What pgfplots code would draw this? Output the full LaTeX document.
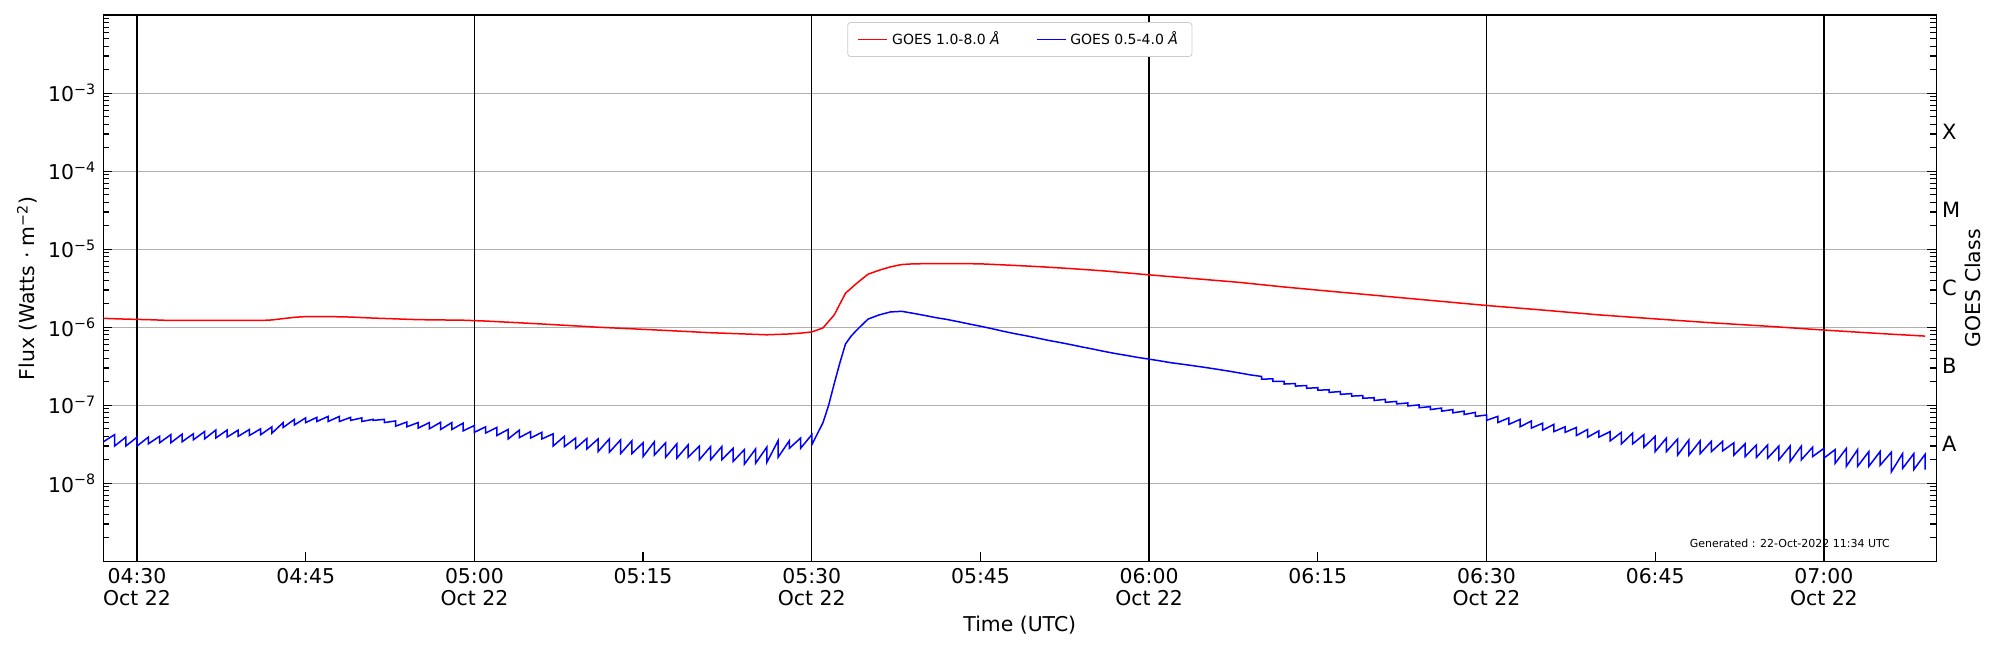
\documentclass[border=0pt]{standalone}
\usepackage{pgfplots}
\pgfplotsset{compat=1.18}
\usepackage{pgfplotstable}
\usepackage{fontspec}
\setmainfont{DejaVu Sans}
\definecolor{gridgray}{HTML}{B0B0B0}
\definecolor{legedge}{HTML}{CCCCCC}

\pgfplotstableread{
x y
27 1.30e-6
29 1.27e-6
31 1.25e-6
33 1.22e-6
35 1.22e-6
37 1.22e-6
39 1.22e-6
41 1.22e-6
42 1.24e-6
43 1.29e-6
44 1.34e-6
45 1.37e-6
47 1.37e-6
49 1.35e-6
51 1.31e-6
53 1.28e-6
55 1.25e-6
57 1.24e-6
59 1.23e-6
61 1.20e-6
63 1.16e-6
65 1.12e-6
67 1.08e-6
69 1.04e-6
71 1.00e-6
73 9.7e-7
75 9.4e-7
77 9.1e-7
79 8.8e-7
81 8.5e-7
83 8.3e-7
85 8.1e-7
86 8.0e-7
87 8.1e-7
88 8.2e-7
89 8.4e-7
90 8.7e-7
91 9.8e-7
92 1.44e-6
93 2.73e-6
94 3.66e-6
95 4.78e-6
96 5.38e-6
97 5.94e-6
98 6.36e-6
99 6.49e-6
101 6.55e-6
103 6.55e-6
105 6.49e-6
107 6.3e-6
110 6.0e-6
113 5.65e-6
116 5.27e-6
120 4.69e-6
124 4.2e-6
128 3.76e-6
132 3.28e-6
136 2.9e-6
140 2.57e-6
145 2.21e-6
150 1.9e-6
155 1.66e-6
160 1.44e-6
165 1.28e-6
170 1.14e-6
175 1.03e-6
180 9.2e-7
185 8.3e-7
189 7.7e-7
}\redtab

\pgfplotstableread{
x y
27 3.4e-8
28 4.2e-8
28 3.0e-8
29 3.9e-8
29 3.0e-8
30 3.9e-8
30 3.0e-8
31 3.9e-8
31 3.2e-8
32 4.0e-8
32 3.3e-8
33 4.2e-8
33 3.3e-8
34 4.25e-8
34 3.4e-8
35 4.3e-8
35 3.6e-8
36 4.6e-8
36 3.7e-8
37 4.8e-8
37 3.8e-8
38 4.8e-8
38 3.9e-8
39 4.8e-8
39 4.0e-8
40 4.9e-8
40 4.1e-8
41 5.0e-8
41 4.2e-8
42 5.3e-8
42 4.4e-8
43 6.0e-8
43 5.2e-8
44 6.6e-8
44 5.6e-8
45 6.9e-8
45 6.0e-8
46 7.0e-8
46 6.2e-8
47 7.2e-8
47 6.2e-8
48 7.2e-8
48 6.2e-8
49 7.0e-8
49 6.4e-8
50 6.9e-8
50 6.2e-8
51 6.6e-8
51 6.4e-8
52 6.6e-8
52 6.0e-8
53 6.3e-8
53 5.4e-8
54 6.1e-8
54 5.3e-8
55 6.0e-8
55 5.1e-8
56 6.0e-8
56 5.0e-8
57 6.05e-8
57 4.9e-8
58 6.0e-8
58 4.9e-8
59 5.9e-8
59 4.7e-8
60 5.5e-8
60 4.5e-8
61 5.3e-8
61 4.4e-8
62 5.2e-8
62 4.1e-8
63 4.9e-8
63 3.7e-8
64 4.8e-8
64 3.85e-8
65 4.6e-8
65 3.8e-8
66 4.5e-8
66 3.7e-8
67 4.3e-8
67 3.0e-8
68 4.0e-8
68 2.95e-8
69 3.8e-8
69 2.8e-8
70 3.75e-8
70 2.75e-8
71 3.7e-8
71 2.55e-8
72 3.7e-8
72 2.5e-8
73 3.6e-8
73 2.4e-8
74 3.5e-8
74 2.4e-8
75 3.3e-8
75 2.2e-8
76 3.4e-8
76 2.3e-8
77 3.3e-8
77 2.15e-8
78 3.2e-8
78 2.1e-8
79 3.1e-8
79 2.15e-8
80 3.0e-8
80 2.0e-8
81 2.95e-8
81 2.0e-8
82 2.95e-8
82 2.0e-8
83 2.8e-8
83 1.9e-8
84 2.7e-8
84 1.75e-8
85 2.75e-8
85 1.8e-8
86 2.9e-8
86 1.85e-8
87 3.5e-8
87 2.15e-8
88 3.5e-8
88 2.8e-8
89 3.8e-8
89 2.8e-8
90 4.2e-8
90 3.1e-8
91 6.0e-8
91.5 1.0e-7
92 1.9e-7
92.5 3.5e-7
93 6.1e-7
93.5 7.7e-7
94 9.2e-7
95 1.27e-6
96 1.44e-6
97 1.57e-6
98 1.60e-6
99 1.51e-6
100 1.42e-6
101 1.33e-6
102 1.26e-6
103 1.18e-6
104 1.10e-6
105 1.03e-6
106 9.6e-7
107 8.9e-7
108 8.3e-7
109 7.8e-7
110 7.3e-7
111 6.8e-7
112 6.4e-7
113 6.0e-7
114 5.6e-7
115 5.25e-7
116 4.9e-7
117 4.6e-7
118 4.35e-7
119 4.1e-7
120 3.9e-7
121 3.7e-7
122 3.5e-7
123 3.35e-7
124 3.2e-7
125 3.05e-7
126 2.9e-7
127 2.75e-7
128 2.6e-7
129 2.45e-7
130 2.34e-7
130 2.16e-7
131 2.18e-7
131 2.02e-7
132 2.03e-7
132 1.87e-7
133 1.90e-7
133 1.76e-7
134 1.79e-7
134 1.65e-7
135 1.68e-7
135 1.56e-7
136 1.58e-7
136 1.46e-7
137 1.50e-7
137 1.38e-7
138 1.41e-7
138 1.31e-7
139 1.33e-7
139 1.23e-7
140 1.25e-7
140 1.15e-7
141 1.19e-7
141 1.09e-7
142 1.12e-7
142 1.04e-7
143 1.07e-7
143 9.8e-8
144 1.01e-7
144 9.3e-8
145 9.6e-8
145 8.8e-8
146 9.2e-8
146 8.4e-8
147 8.8e-8
147 8.0e-8
148 8.4e-8
148 7.6e-8
149 8.1e-8
149 7.2e-8
150 7.5e-8
150 6.4e-8
151 7.2e-8
151 6.0e-8
152 6.9e-8
152 5.7e-8
153 6.6e-8
153 5.3e-8
154 6.3e-8
154 5.1e-8
155 5.9e-8
155 4.8e-8
156 5.7e-8
156 4.6e-8
157 5.3e-8
157 4.5e-8
158 5.2e-8
158 4.1e-8
159 4.9e-8
159 3.9e-8
160 4.7e-8
160 3.9e-8
161 4.6e-8
161 3.5e-8
162 4.5e-8
162 3.2e-8
163 4.4e-8
163 3.2e-8
164 4.2e-8
164 2.9e-8
165 4.0e-8
165 2.55e-8
166 3.8e-8
166 2.55e-8
167 3.7e-8
167 2.3e-8
168 3.6e-8
168 2.3e-8
169 3.5e-8
169 2.4e-8
170 3.45e-8
170 2.55e-8
171 3.45e-8
171 2.6e-8
172 3.3e-8
172 2.3e-8
173 3.2e-8
173 2.2e-8
174 3.1e-8
174 2.15e-8
175 3.1e-8
175 2.1e-8
176 3.0e-8
176 2.0e-8
177 3.0e-8
177 1.9e-8
178 3.0e-8
178 2.0e-8
179 2.9e-8
179 2.2e-8
180 2.8e-8
180 2.1e-8
181 2.7e-8
181 1.8e-8
182 2.8e-8
182 1.65e-8
183 2.7e-8
183 1.65e-8
184 2.55e-8
184 1.65e-8
185 2.55e-8
185 1.7e-8
186 2.5e-8
186 1.4e-8
187 2.4e-8
187 1.55e-8
188 2.4e-8
188 1.5e-8
189 2.35e-8
189 1.5e-8
}\bluetab

\begin{document}
\begin{tikzpicture}
\path[use as bounding box] (0pt,0pt) rectangle (1000pt,325pt);
\begin{axis}[
  at={(51.65pt,44.35pt)}, anchor=south west,
  scale only axis, width=916.5pt, height=273.1pt,
  clip=false,
  xmin=27, xmax=190,
  ymode=log, ymin=1e-9, ymax=1e-2,
  xtick={30,45,...,180},
  xticklabels={{04:30\\Oct 22},{04:45},{05:00\\Oct 22},{05:15},{05:30\\Oct 22},{05:45},{06:00\\Oct 22},{06:15},{06:30\\Oct 22},{06:45},{07:00\\Oct 22}},
  ytick={1e-8,1e-7,1e-6,1e-5,1e-4,1e-3},
  yticklabels={10\textsuperscript{−8},10\textsuperscript{−7},10\textsuperscript{−6},10\textsuperscript{−5},10\textsuperscript{−4},10\textsuperscript{−3}},
  minor ytick={2e-9,3e-9,4e-9,5e-9,6e-9,7e-9,8e-9,9e-9,
    2e-8,3e-8,4e-8,5e-8,6e-8,7e-8,8e-8,9e-8,
    2e-7,3e-7,4e-7,5e-7,6e-7,7e-7,8e-7,9e-7,
    2e-6,3e-6,4e-6,5e-6,6e-6,7e-6,8e-6,9e-6,
    2e-5,3e-5,4e-5,5e-5,6e-5,7e-5,8e-5,9e-5,
    2e-4,3e-4,4e-4,5e-4,6e-4,7e-4,8e-4,9e-4,
    2e-3,3e-3,4e-3,5e-3,6e-3,7e-3,8e-3,9e-3},
  xtick pos=bottom, ytick pos=both,
  tick align=inside,
  major tick length=4.5pt, minor tick length=3pt,
  every tick/.style={black, line width=0.6pt},
  axis line style={line width=0.8pt},
  ymajorgrids,
  major grid style={gridgray, line width=0.6pt},
  ticklabel style={font=\fontsize{10.2}{10.75}\selectfont},
  xticklabel style={align=center},
  xlabel={Time (UTC)},
  xlabel style={at={(axis description cs:0.5,-0.1285)}, anchor=base, inner sep=0pt, font=\fontsize{10.2}{12}\selectfont},
  ylabel={Flux (Watts · m\textsuperscript{−2})},
  ylabel style={at={(axis description cs:-0.03726,0.5)}, anchor=base, inner sep=0pt, font=\fontsize{10.2}{12}\selectfont},
  legend columns=2,
  legend cell align=left,
  legend image code/.code={\draw[#1] (0pt,0pt) -- (14.5pt,0pt);},
  legend style={at={(0.5,1)}, anchor=north, yshift=-3.5pt, draw=legedge, rounded corners=1.5pt, fill=white,
    font=\fontsize{7}{8}\selectfont, inner xsep=5pt, inner ysep=2.5pt,
    /tikz/every even column/.append style={column sep=16pt}},
]
\pgfplotsinvokeforeach{30,60,90,120,150,180}{
  \draw[black, line width=0.65pt] (axis cs:#1,1e-9) -- (axis cs:#1,1e-2);
}
\addplot[red, line width=0.75pt] table[x=x,y=y] {\redtab};
\addlegendentry{GOES 1.0-8.0 \textit{Å}}
\addplot[blue, line width=0.75pt] table[x=x,y=y] {\bluetab};
\addlegendentry{GOES 0.5-4.0 \textit{Å}}

\node[anchor=west, inner sep=0pt, xshift=2.7pt, font=\fontsize{10.5}{12}\selectfont] at (rel axis cs:1,0.7857) {X};
\node[anchor=west, inner sep=0pt, xshift=2.7pt, font=\fontsize{10.5}{12}\selectfont] at (rel axis cs:1,0.6429) {M};
\node[anchor=west, inner sep=0pt, xshift=2.7pt, font=\fontsize{10.5}{12}\selectfont] at (rel axis cs:1,0.5) {C};
\node[anchor=west, inner sep=0pt, xshift=2.7pt, font=\fontsize{10.5}{12}\selectfont] at (rel axis cs:1,0.3571) {B};
\node[anchor=west, inner sep=0pt, xshift=2.7pt, font=\fontsize{10.5}{12}\selectfont] at (rel axis cs:1,0.2143) {A};
\node[rotate=90, anchor=base, inner sep=0pt, font=\fontsize{10.2}{12}\selectfont] at (rel axis cs:1.0239,0.5) {GOES Class};
\node[anchor=base east, inner sep=0pt, font=\fontsize{5.5}{6}\selectfont] at (rel axis cs:0.9749,0.0249) {Generated : 22-Oct-2022 11:34 UTC};
\end{axis}
\end{tikzpicture}
\end{document}
